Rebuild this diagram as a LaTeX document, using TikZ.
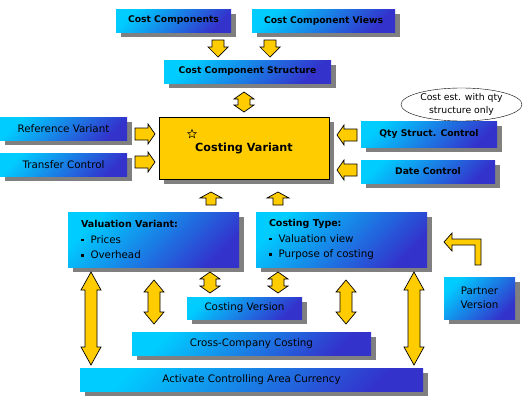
\documentclass[tikz,border=0pt]{standalone}
\usepackage{fontspec}
\setmainfont{DejaVu Sans}
\usetikzlibrary{shadows, shapes.geometric}
\definecolor{boxtop}{RGB}{0,204,255}
\definecolor{boxbot}{RGB}{51,51,204}
\definecolor{arrowyellow}{RGB}{255,204,0}

\begin{document}
\begin{tikzpicture}[x=1pt, y=-1pt, line join=miter,
  graybox/.style={drop shadow={shadow xshift=5pt, shadow yshift=-5pt, fill=gray, opacity=1}},
  bluebox/.style={graybox, rectangle, inner sep=0pt, top color=boxtop, bottom color=boxbot,
    shading angle=45, font=\fontsize{10.3}{12}\selectfont},
  boldtext/.style={font=\fontsize{9.2}{11}\selectfont\bfseries},
  listbox/.style={bluebox, minimum width=171, minimum height=55, text width=145,
    inner xsep=13, align=left, font=\fontsize{10.3}{15.5}\selectfont},
  blockarrow/.style={draw=black, fill=arrowyellow, line width=0.7pt}]
\fill[white] (0,0) rectangle (527,407);
\useasboundingbox (0,0) rectangle (527,407);

% top row
\node[bluebox, boldtext, minimum width=115, minimum height=23] (cc) at (173.5,20.5) {Cost Components};
\node[bluebox, boldtext, minimum width=143, minimum height=23] (ccv) at (323.5,20.5) {Cost Component Views};
\node[bluebox, boldtext, minimum width=167, minimum height=23] (ccs) at (247.5,71.5) {Cost Component Structure};

% costing variant and its neighbours
\node[graybox, draw, fill=arrowyellow, minimum width=170, minimum height=62,
  font=\fontsize{11.2}{13}\selectfont\bfseries] (cv) at (244,148) {Costing Variant};
\node[star, star points=5, star point ratio=2.3, draw, fill=arrowyellow, minimum size=9,
  inner sep=0pt, line width=0.5pt] (mark) at (192,134) {};
\node[bluebox, minimum width=127, minimum height=23] (refvar) at (63.5,128.5) {Reference Variant};
\node[bluebox, minimum width=127, minimum height=23] (transfer) at (63.5,164.5) {Transfer Control};
\node[bluebox, boldtext, minimum width=136, minimum height=26] (qty) at (429,134) {Qty Struct. Control};
\node[bluebox, boldtext, minimum width=134, minimum height=23] (date) at (428,171.5) {Date Control};
\node[ellipse, draw, fill=white, minimum width=121, minimum height=33, inner sep=0pt,
  align=center, font=\fontsize{9.3}{12.5}\selectfont] (note) at (461.5,104.5) {Cost est. with qty\\structure only};

% lower part
\node[listbox] (valvar) at (153.5,239.5) {{\fontsize{9.5}{11}\selectfont\bfseries Valuation Variant:}\\
  \rule[2pt]{2.5pt}{2.5pt}\hspace{7pt}Prices\\
  \rule[2pt]{2.5pt}{2.5pt}\hspace{7pt}Overhead};
\node[listbox] (ctype) at (341.5,239.5) {{\fontsize{9.5}{11}\selectfont\bfseries Costing Type:}\\
  \rule[2pt]{2.5pt}{2.5pt}\hspace{7pt}Valuation view\\
  \rule[2pt]{2.5pt}{2.5pt}\hspace{7pt}Purpose of costing};
\node[bluebox, minimum width=71, minimum height=42, align=center,
  font=\fontsize{10.3}{14}\selectfont] (partner) at (479.5,298) {Partner\\Version};
\node[bluebox, minimum width=115, minimum height=22] (cver) at (244.5,308) {Costing Version};
\node[bluebox, minimum width=239, minimum height=23] (cross) at (251.5,343.5) {Cross-Company Costing};
\node[bluebox, minimum width=343, minimum height=23] (acac) at (251.5,379.5) {Activate Controlling Area Currency};

% block arrows
\foreach \x in {218,270}
  \draw[blockarrow] (\x-6,40) -- (\x+6,40) -- (\x+6,47) -- (\x+10,47) -- (\x,57)
    -- (\x-10,47) -- (\x-6,47) -- cycle;
\foreach \x/\ya/\yb/\h in {244/92/112/7, 210/272/293/7, 278/272/293/7,
    154/280/324/12, 346/280/324/12, 91/272/365/18, 414/272/365/18}
  \draw[blockarrow] (\x,\ya) -- (\x+10,\ya+\h) -- (\x+6,\ya+\h) -- (\x+6,\yb-\h)
    -- (\x+10,\yb-\h) -- (\x,\yb) -- (\x-10,\yb-\h) -- (\x-6,\yb-\h)
    -- (\x-6,\ya+\h) -- (\x-10,\ya+\h) -- cycle;
\foreach \x in {211,278}
  \draw[blockarrow] (\x,192) -- (\x+11,198) -- (\x+5,198) -- (\x+5,205) -- (\x-5,205)
    -- (\x-5,198) -- (\x-11,198) -- cycle;
\foreach \y in {134,162}
  \draw[blockarrow] (135,\y-6) -- (148,\y-6) -- (148,\y-10) -- (155,\y) -- (148,\y+10)
    -- (148,\y+6) -- (135,\y+6) -- cycle;
\foreach \y in {135,170}
  \draw[blockarrow] (357,\y-6) -- (344,\y-6) -- (344,\y-10) -- (337,\y) -- (344,\y+10)
    -- (344,\y+6) -- (357,\y+6) -- cycle;
\draw[blockarrow] (444,242) -- (452,233) -- (452,239) -- (481,239) -- (481,265)
  -- (475,265) -- (475,245) -- (452,245) -- (452,251) -- cycle;
\end{tikzpicture}
\end{document}
